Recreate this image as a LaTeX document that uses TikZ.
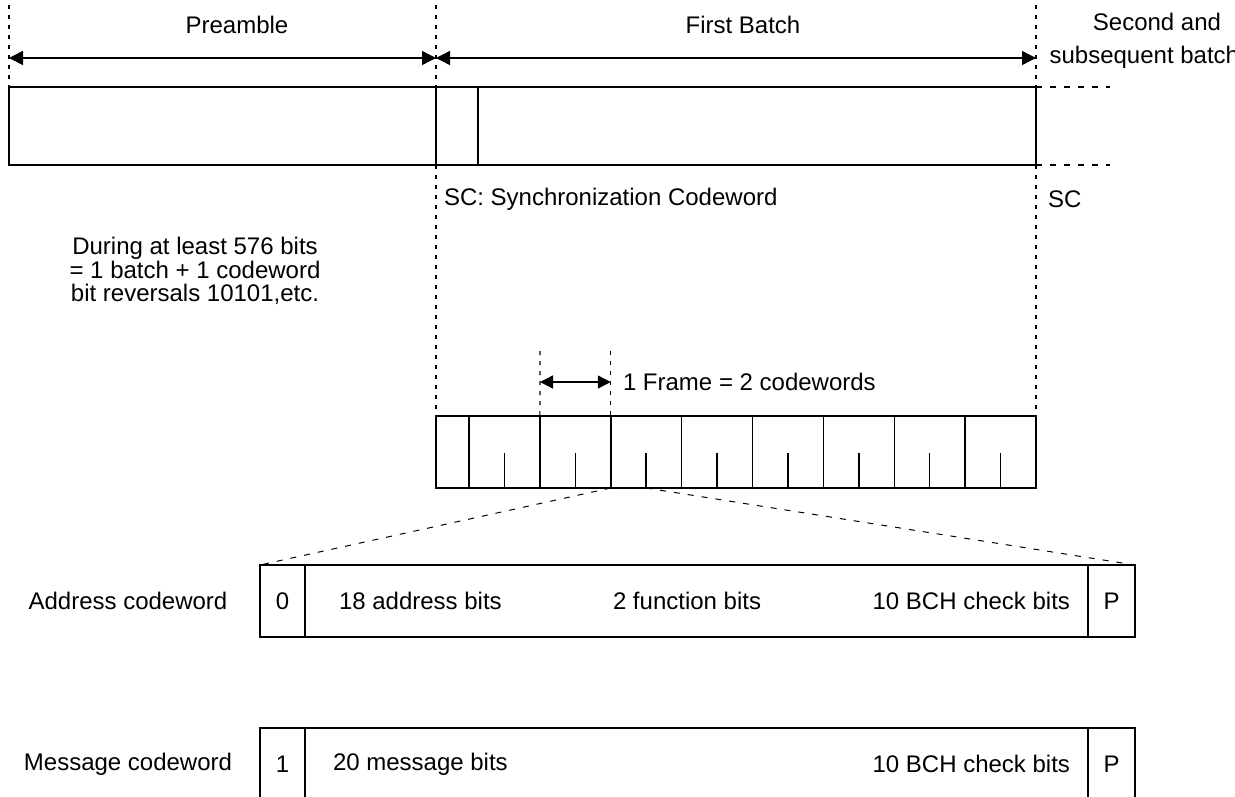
\documentclass[tikz,border=0pt]{standalone}
\usepackage{fontspec}
\setmainfont{Liberation Sans}
\usetikzlibrary{arrows.meta}
\begin{document}
\begin{tikzpicture}[x=1pt,y=-1pt,
  every node/.style={font=\fontsize{24}{28}\selectfont, inner sep=0pt, outer sep=0pt},
  cell/.style={draw, line width=1.5pt, minimum height=78pt, anchor=north west},
  fcell/.style={draw, line width=1.5pt, minimum height=72pt, anchor=north west},
  dline/.style={line width=1.2pt, dash pattern=on 4pt off 6pt},
  hdash/.style={line width=1.2pt, dash pattern=on 6pt off 8pt},
  bigarrow/.style={line width=1.5pt, {Triangle[length=14pt,width=14pt]}-{Triangle[length=14pt,width=14pt]}},
  smallarrow/.style={line width=1.5pt, {Triangle[length=13pt,width=13pt]}-{Triangle[length=13pt,width=13pt]}}
]
\useasboundingbox (0,0) rectangle (1235,796);
\clip (0,0) rectangle (1235,796);

% top row
\node[cell, minimum width=427pt] (pre) at (9,87) {};
\node[cell, minimum width=42pt] (sc) at (436,87) {};
\node[cell, minimum width=558pt] (batch) at (478,87) {};

% dashed guides
\coordinate (gl) at (9,5);
\coordinate (gm) at (436,5);
\coordinate (gr) at (1036,5);
\draw[dline] (gl) -- (pre.north west);
\draw[dline] (gm) -- (sc.north west);
\draw[dline] (gr) -- (batch.north east);
\coordinate (gmb) at (436,416);
\coordinate (grb) at (1036,416);
\draw[dline] (sc.south west) -- (gmb);
\draw[dline] (batch.south east) -- (grb);
\coordinate (hd1) at (1110,87);
\coordinate (hd2) at (1110,165);
\draw[hdash] (batch.north east) -- (hd1);
\draw[hdash] (batch.south east) -- (hd2);

% dimension arrows
\coordinate (al) at (9,58);
\coordinate (am) at (436,58);
\coordinate (ar) at (1036,58);
\draw[bigarrow] (al) -- (am);
\draw[bigarrow] (am) -- (ar);

% labels top
\node (tpre) at (237,25) {Preamble};
\node (tfb) at (743,25) {First Batch};
\node[align=center, font=\fontsize{24}{33}\selectfont, anchor=north] (tsec) at (1157,13) {Second and\\subsequent batches};
\node[anchor=west] (tsc) at (444,199) {SC: Synchronization Codeword};
\node[anchor=west] (tsc2) at (1048,199) {SC};
\node[align=center, font=\fontsize{24}{23.5}\selectfont] (note) at (195,271) {During at least 576 bits\\= 1 batch + 1 codeword\\bit reversals 10101,etc.};

% frame row
\node[fcell, minimum width=33pt] (fsc) at (436,416) {};
\foreach \i in {0,...,7} {
  \node[fcell, minimum width=70.875pt] (f\i) at ({469+70.875*\i},416) {};
  \draw[line width=1.5pt] (f\i.south) -- ++(0,-35);
}

% frame dimension
\coordinate (fd1) at (540,351);
\coordinate (fd2) at (610.75,351);
\draw[dline] (fd1) -- (f1.north west);
\draw[dline] (fd2) -- (f1.north east);
\coordinate (fa1) at (540,382);
\coordinate (fa2) at (610.75,382);
\draw[smallarrow] (fa1) -- (fa2);
\node[anchor=west] (tframe) at (623,382) {1 Frame = 2 codewords};

% address codeword
\node[fcell, minimum width=45pt] (a0) at (260,565) {0};
\node[fcell, minimum width=783pt] (abody) at (305,565) {};
\node[fcell, minimum width=47pt] (ap) at (1088,565) {P};
\node (taddr) at (128,601) {Address codeword};
\node[anchor=west] (ta1) at (339,601) {18 address bits};
\node[anchor=west] (ta2) at (613,601) {2 function bits};
\node[anchor=east] (ta3) at (1070,601) {10 BCH check bits};

% projection lines
\draw[hdash, line width=1pt] (f2.south west) -- (a0.north west);
\draw[hdash, line width=1pt] (f2.south) -- (ap.north east);

% message codeword
\node[fcell, minimum width=45pt] (m0) at (260,728) {1};
\node[fcell, minimum width=783pt] (mbody) at (305,728) {};
\node[fcell, minimum width=47pt] (mp) at (1088,728) {P};
\node (tmsg) at (128,764) {Message codeword};
\node[anchor=west] (tm1) at (333,764) {20 message bits};
\node[anchor=east] (tm3) at (1070,764) {10 BCH check bits};
\end{tikzpicture}
\end{document}
